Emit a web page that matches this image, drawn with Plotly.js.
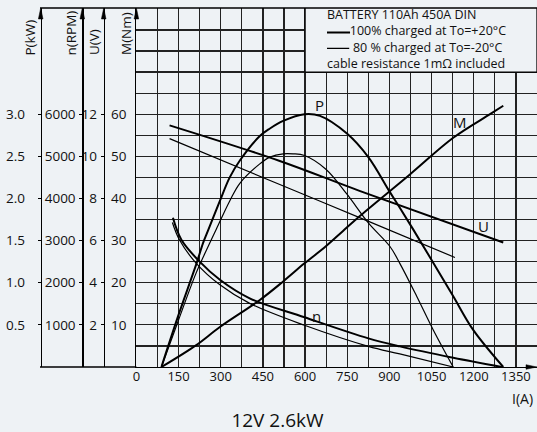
<!DOCTYPE html>
<html><head><meta charset="utf-8">
<script src="https://cdn.plot.ly/plotly-3.0.1.min.js"></script>
<style>html,body{margin:0;padding:0;background:#eef2f5;}#chart{width:537px;height:432px;}</style>
</head><body><div id="chart"></div>
<script>
// ---- tick labels ----
const currentTicks = [0,150,300,450,600,750,900,1050,1200,1350];
const powerTicks = [0.5,1.0,1.5,2.0,2.5,3.0];
const speedTicks = [1000,2000,3000,4000,5000,6000];
const voltTicks = [2,4,6,8,10,12];
const torqueTicks = [10,20,30,40,50,60];

// ---- series: 100% charged at +20°C (thick) ----
const powerFullI = [89,148,213,237,255,297,332,368,439,475,522,598,653,749,825,899,937,985,1050,1127,1198,1305];
const powerFull  = [0,0.60,1.22,1.47,1.62,1.97,2.25,2.45,2.74,2.83,2.92,3.00,2.98,2.77,2.49,2.09,1.89,1.63,1.27,0.84,0.44,0];
const speedFullI = [130,160,225,297,403,598,825,937,1127,1300];
const speedFull  = [3540,3020,2500,2070,1630,1180,680,490,220,0];
const voltFullI  = [118,510,796,1305];
const voltFull   = [11.47,9.78,8.35,5.91];
const torqueI    = [89,213,297,439,522,598,673,735,796,973,1127,1258,1305];
const torque     = [0,5.2,9.5,15.9,20.3,24.6,28.6,32.3,35.9,45.7,54.4,60.0,62.0];

// ---- series: 80% charged at -20°C (thin) ----
const powerColdI = [89,148,213,261,285,332,368,439,475,522,557,598,673,749,825,902,937,997,1056,1127];
const powerCold  = [0,0.54,1.12,1.47,1.64,1.97,2.18,2.41,2.49,2.53,2.53,2.51,2.35,2.05,1.71,1.43,1.23,0.84,0.44,0];
const speedColdI = [128,153,213,297,403,598,825,937,1127];
const speedCold  = [3430,3020,2460,1950,1510,990,490,310,0];
const voltColdI  = [118,510,796,1133];
const voltCold   = [10.84,8.66,7.08,5.2];

const BG = '#eef2f5';
const INK = '#111';
const FONT = 'Open Sans';
const TOPM = 85.2;

function curve(x, y, yaxis, w) {
  return {type:'scatter', mode:'lines', x:x, y:y, xaxis:'x', yaxis:yaxis,
    line:{color:'#000', width:w, shape:'spline', smoothing:1}, hoverinfo:'skip', showlegend:false};
}

const traces = [
  curve(powerFullI, powerFull, 'y2', 2),
  curve(powerColdI, powerCold, 'y2', 1.2),
  curve(speedFullI, speedFull, 'y3', 2),
  curve(speedColdI, speedCold, 'y3', 1.2),
  curve(voltFullI, voltFull, 'y4', 2),
  curve(voltColdI, voltCold, 'y4', 1.2),
  curve(torqueI, torque, 'y', 2)
];

const gridC = '#222';
const xDomStart = (136.4-40)/497;
const freeAxis = (pos, range, ticks, fmt, standoff) => ({
  overlaying:'y', anchor:'free', position:pos, side:'left', range:range,
  tickmode:'array', tickvals:ticks, tickformat:fmt, showgrid:false, zeroline:false,
  showline:true, linecolor:'#000', linewidth:1.3, ticks:'outside', ticklen:3, tickwidth:1.2, tickcolor:'#000',
  ticklabelstandoff:standoff, tickfont:{family:FONT, size:13.5, color:INK}
});

const arrowUp = (px) => ({type:'path', xref:'paper', yref:'paper', xsizemode:'pixel', ysizemode:'pixel',
  xanchor:px, yanchor:1, path:'M -2.3,-11 L 2.3,-11 L 0,0 Z', fillcolor:'#000', line:{color:'#000', width:0.5}});

const axisTitle = (txt, px) => ({text:txt, xref:'paper', yref:'paper', x:(px-40)/497, y:(367-57.5)/359,
  textangle:-90, xanchor:'center', yanchor:'bottom', showarrow:false, font:{family:FONT, size:13.5, color:INK}});

const lab = (txt, x, y, size) => ({text:txt, xref:'x', yref:'y', x:x, y:y, showarrow:false,
  xanchor:'center', yanchor:'middle', font:{family:FONT, size:size, color:INK}});

const NB = '\u00A0';
const legendLines = [
  'BATTERY 110Ah 450A DIN',
  NB.repeat(7) + '100% charged at To=+20°C',
  NB.repeat(8) + '80 % charged at To=-20°C',
  'cable resistance 1mΩ included'
];

const layout = {
  width:537, height:432,
  margin:{l:40, r:0, t:8, b:65},
  paper_bgcolor:BG, plot_bgcolor:BG,
  showlegend:false,
  title:{text:'12V 2.6kW', font:{family:FONT, size:19, color:INK}, xref:'container', yref:'container',
    x:277.5/537, y:1-420/432, xanchor:'center', yanchor:'middle'},
  xaxis:{domain:[xDomStart,1], range:[0,1425], tickmode:'array', tickvals:currentTicks,
    showgrid:true, gridcolor:gridC, gridwidth:1.2, zeroline:false,
    minor:{tick0:0, dtick:75, showgrid:true, gridcolor:gridC, gridwidth:1.2},
    showline:true, linecolor:'#000', linewidth:1.3, ticks:'', ticklabelstandoff:-3,
    tickfont:{family:FONT, size:13, color:INK}},
  yaxis:{range:[0,TOPM], tickmode:'array', tickvals:torqueTicks, showgrid:true, gridcolor:gridC, gridwidth:1.2,
    minor:{tick0:0, dtick:5, showgrid:true, gridcolor:gridC, gridwidth:1.2},
    zeroline:false, showline:true, linecolor:'#000', linewidth:1.3, ticks:'', ticklabelstandoff:6,
    tickfont:{family:FONT, size:13.5, color:INK}},
  yaxis2: freeAxis(0.0014, [0, TOPM*0.05], powerTicks, '.1f', 10),
  yaxis3: freeAxis((82.3-40)/497, [0, TOPM*100], speedTicks, 'd', 1),
  yaxis4: freeAxis((103.7-40)/497, [0, TOPM*0.2], voltTicks, 'd', 1),
  shapes:[
    {type:'line', xref:'paper', yref:'paper', x0:0, x1:1, y0:1, y1:1, line:{color:'#000', width:1.3}},
    {type:'line', xref:'paper', yref:'paper', x0:0, x1:xDomStart, y0:0, y1:0, line:{color:'#000', width:1.3}},
    {type:'rect', xref:'x', yref:'y', x0:600, x1:1425, y0:70, y1:TOPM, fillcolor:BG, line:{color:'#000', width:1.3}, layer:'above'},
    {type:'line', xref:'x', yref:'y', x0:678, x1:760, y0:79.4, y1:79.4, line:{color:'#000', width:2}, layer:'above'},
    {type:'line', xref:'x', yref:'y', x0:678, x1:757, y0:75.6, y1:75.6, line:{color:'#000', width:1.2}, layer:'above'},
    arrowUp(0.0014), arrowUp((82.3-40)/497), arrowUp((103.7-40)/497), arrowUp(xDomStart),
    {type:'path', xref:'paper', yref:'paper', xsizemode:'pixel', ysizemode:'pixel', xanchor:1, yanchor:0,
      path:'M 0,0 L -11,2.3 L -11,-2.3 Z', fillcolor:'#000', line:{color:'#000', width:0.5}}
  ],
  annotations:[
    axisTitle('P(kW)', 29), axisTitle('n(RPM)', 70.5), axisTitle('U(V)', 93.5), axisTitle('M(Nm)', 126),
    lab('P', 653, 62.1, 15), lab('M', 1151, 58.2, 15), lab('U', 1236, 33.5, 15), lab('n', 641, 12.2, 15),
    {text:legendLines.join('<br>'), xref:'x', yref:'y', x:673, y:77.8, xanchor:'left', yanchor:'middle',
      align:'left', showarrow:false, borderpad:0, font:{family:FONT, size:12.5, color:INK}},
    {text:'I(A)', xref:'paper', yref:'paper', x:(522.5-40)/497, y:(367-398.5)/359, showarrow:false,
      xanchor:'center', yanchor:'middle', font:{family:FONT, size:14, color:INK}}
  ]
};

Plotly.newPlot('chart', traces, layout, {staticPlot:true, displayModeBar:false});
</script></body></html>
